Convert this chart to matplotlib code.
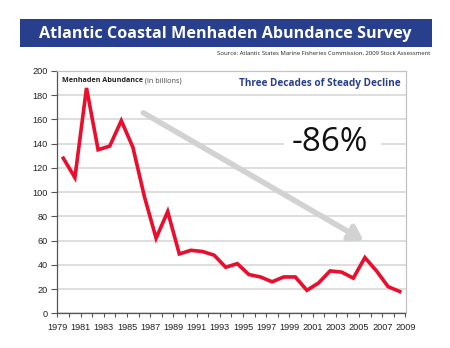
import matplotlib
matplotlib.use("Agg")
import matplotlib.pyplot as plt
from matplotlib.patches import Rectangle

# Atlantic menhaden abundance, billions of fish, one value per survey year
years = list(range(1979, 2009))
abundance = [128, 112, 186, 135, 138, 159, 137, 96, 62, 84,
             49, 52, 51, 48, 38, 41, 32, 30, 26, 30,
             30, 19, 25, 35, 34, 29, 46, 35, 22, 18]

tick_years = list(range(1979, 2010, 2))
y_ticks = list(range(0, 201, 20))

title = "Atlantic Coastal Menhaden Abundance Survey"
source = "Source: Atlantic States Marine Fisheries Commission, 2009 Stock Assessment"
subtitle = "Three Decades of Steady Decline"
change_label = "-86%"

BLUE = "#283f8e"
RED = "#ec0c2c"
GRID = "#d4d4d4"

fig = plt.figure(figsize=(4.5, 3.48), dpi=100)
fig.patch.set_facecolor("white")

# Title banner
fig.patches.append(Rectangle((19.5 / 450, 1 - 46.7 / 348), 412 / 450, 27.4 / 348,
                             transform=fig.transFigure, facecolor=BLUE,
                             edgecolor="none", zorder=0))
fig.text(0.5, 1 - 33.5 / 348, title, ha="center", va="center", color="white",
         fontsize=11.6, fontweight="bold", family="Open Sans")
fig.text(430 / 450, 1 - 53.5 / 348, source, ha="right", va="center",
         color="#222222", fontsize=4.3, family="Open Sans")

ax = fig.add_axes([57.5 / 450, 34.7 / 348, 348 / 450, 242.3 / 348])
ax.set_xlim(1979, 2009)
ax.set_ylim(0, 200)

ax.set_yticks(y_ticks)
ax.set_xticks(tick_years)
ax.set_xticks(range(1979, 2010), minor=True)
ax.tick_params(axis="both", which="both", direction="out", color="#555555",
               labelcolor="#222222", labelsize=6.6, width=0.8)
ax.tick_params(axis="y", length=4, pad=3)
ax.tick_params(axis="x", which="major", length=3, pad=4)
ax.tick_params(axis="x", which="minor", length=3)
for lab in ax.get_xticklabels() + ax.get_yticklabels():
    lab.set_family("Liberation Sans")

ax.grid(axis="y", color=GRID, linewidth=1.1, zorder=0)
ax.set_axisbelow(True)
for side in ("left", "bottom"):
    ax.spines[side].set_color("#555555")
    ax.spines[side].set_linewidth(0.9)
for side in ("top", "right"):
    ax.spines[side].set_color("#c4c4c4")
    ax.spines[side].set_linewidth(0.9)

# Categories sit centred between the year ticks
ax.plot([y + 0.5 for y in years], abundance, color=RED, linewidth=2.6,
        solid_joinstyle="miter", zorder=4)

# Trend arrow
ax.annotate("", xy=(2005.4, 60), xytext=(1986.4, 165.5),
            arrowprops=dict(arrowstyle="-|>,head_length=0.8,head_width=0.5",
                            color="#d2d2d2", lw=4.0, shrinkA=0, shrinkB=0,
                            mutation_scale=10),
            zorder=3)

# Percentage change callout, with a white gap cut into the gridline behind it
ax.add_patch(Rectangle((1998.5, 132), 8.4, 16, facecolor="white",
                       edgecolor="none", zorder=1))
ax.text(2002.5, 140.7, change_label, ha="center", va="center", fontsize=24,
        family="Open Sans", color="#111111", zorder=5)

label = ax.text(0.012, 0.975, "Menhaden Abundance", transform=ax.transAxes,
                ha="left", va="top", fontsize=5.2, fontweight="bold",
                family="Open Sans", color="#222222")
ax.annotate(" (in billions)", xy=(1, 1), xycoords=label, ha="left", va="top",
            fontsize=5.2, family="Open Sans", color="#444444")
ax.text(0.985, 0.97, subtitle, transform=ax.transAxes, ha="right", va="top",
        fontsize=7.2, fontweight="bold", family="Open Sans", color=BLUE)

fig.savefig("out.png", dpi=100, facecolor="white")
